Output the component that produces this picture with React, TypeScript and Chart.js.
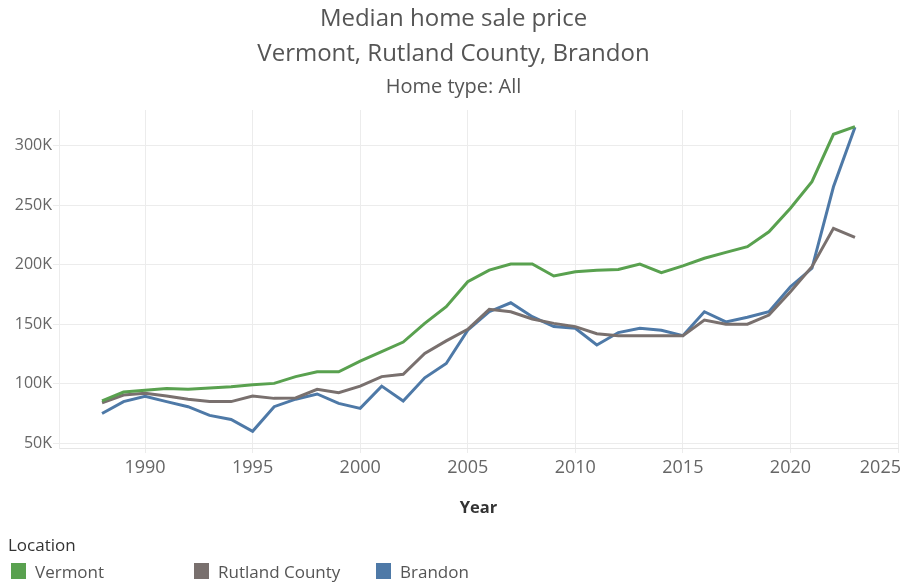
import React, { useEffect, useRef } from "react";
import { Chart, registerables } from "chart.js";

Chart.register(...registerables);

const years = [
  1988, 1989, 1990, 1991, 1992, 1993, 1994, 1995, 1996, 1997, 1998, 1999,
  2000, 2001, 2002, 2003, 2004, 2005, 2006, 2007, 2008, 2009, 2010, 2011,
  2012, 2013, 2014, 2015, 2016, 2017, 2018, 2019, 2020, 2021, 2022, 2023,
];

const vermont = [
  85500, 93000, 94500, 96000, 95300, 96400, 97500, 99200, 100300, 106000, 110000, 110000,
  119000, 127000, 135000, 150700, 164700, 185700, 195500, 200600, 200600, 190500, 194100, 195300,
  196000, 200600, 193300, 199000, 205400, 210400, 215200, 227700, 247400, 269800, 309600, 316000,
];

const rutland = [
  84000, 90500, 92000, 89700, 87000, 85000, 85000, 89700, 87700, 88000, 95300, 92500,
  98000, 106000, 108000, 125500, 136000, 145700, 162500, 160500, 154400, 150700, 148000, 142000,
  140400, 140400, 140400, 140400, 153500, 150000, 150000, 157700, 177300, 198300, 230600, 223000,
];

const brandon = [
  75000, 85000, 89500, 85000, 80700, 73400, 70000, 60000, 80700, 87000, 91400, 83500,
  79300, 98000, 85500, 105000, 117000, 145000, 160500, 168000, 156300, 148000, 146600, 132500,
  143000, 146600, 145000, 140400, 160500, 152000, 155800, 160500, 181500, 197000, 265500, 315500,
];

const yTicks = [50000, 100000, 150000, 200000, 250000, 300000];
const xTicks = [1990, 1995, 2000, 2005, 2010, 2015, 2020, 2025];

const seriesNames = ["Vermont", "Rutland County", "Brandon"];
const seriesColors = ["#59a14f", "#79706e", "#4e79a7"];

const FONT = "'Open Sans', 'Noto Sans', sans-serif";
const X_TICK_SIZE = 18;
const X_TICK_PAD = 4;
const X_TICK_LEN = 5;

const lastXLabel = {
  id: "lastXLabel",
  afterDraw(chart: any) {
    const sx = chart.scales.x;
    const ctx = chart.ctx;
    const last = xTicks[xTicks.length - 1];
    ctx.save();
    ctx.font = `${X_TICK_SIZE}px ${FONT}`;
    ctx.fillStyle = "#666666";
    ctx.textAlign = "right";
    ctx.textBaseline = "middle";
    ctx.fillText(String(last), chart.width - 1, sx.top + X_TICK_LEN + X_TICK_PAD + (X_TICK_SIZE * 1.2) / 2);
    ctx.restore();
  },
};

export default function App() {
  const ref = useRef<HTMLCanvasElement | null>(null);

  useEffect(() => {
    if (!ref.current) return;
    const all = [vermont, rutland, brandon];
    const chart = new Chart(ref.current, {
      type: "line",
      data: {
        datasets: all.map((vals, i) => ({
          label: seriesNames[i],
          data: years.map((y, j) => ({ x: y, y: vals[j] })),
          borderColor: seriesColors[i],
          backgroundColor: seriesColors[i],
          borderWidth: 3,
          pointRadius: 0,
          tension: 0,
        })),
      },
      plugins: [lastXLabel],
      options: {
        animation: false,
        responsive: false,
        maintainAspectRatio: false,
        layout: {
          autoPadding: false,
          padding: { left: 0, right: -5, top: 0, bottom: 65 },
        },
        plugins: {
          legend: { display: false },
          tooltip: { enabled: false },
          title: {
            display: true,
            text: ["Median home sale price", "Vermont, Rutland County, Brandon"],
            color: "#555555",
            font: { family: FONT, size: 24, weight: "normal", lineHeight: 35 / 24 },
            padding: { top: 2, bottom: 0 },
          },
          subtitle: {
            display: true,
            text: "Home type: All",
            color: "#555555",
            font: { family: FONT, size: 20, weight: "normal", lineHeight: 1.2 },
            padding: { top: 3, bottom: 11 },
          },
        },
        scales: {
          x: {
            type: "linear",
            min: 1986,
            max: 2025,
            afterBuildTicks: (axis: any) => {
              axis.ticks = xTicks.map((v) => ({ value: v }));
            },
            grid: { color: "#ececec", drawTicks: true, tickLength: X_TICK_LEN, tickColor: "#ececec" },
            border: { display: true, color: "#e6e6e6" },
            ticks: {
              color: "#666666",
              font: { family: FONT, size: X_TICK_SIZE },
              padding: X_TICK_PAD,
              maxRotation: 0,
              autoSkip: false,
              callback: (v: any) => (v === xTicks[xTicks.length - 1] ? "" : String(v)),
            },
            title: {
              display: true,
              text: "Year",
              color: "#333333",
              font: { family: FONT, size: 16.5, weight: "bold", lineHeight: 1.2 },
              padding: { top: 15.6, bottom: 0 },
            },
          },
          y: {
            type: "linear",
            min: 46000,
            max: 330000,
            afterBuildTicks: (axis: any) => {
              axis.ticks = yTicks.map((v) => ({ value: v }));
            },
            afterFit: (axis: any) => {
              axis.width = 59;
            },
            grid: { color: "#ececec", drawTicks: true, tickLength: 6, tickColor: "#ececec" },
            border: { display: true, color: "#ececec" },
            ticks: {
              color: "#666666",
              font: { family: FONT, size: 16 },
              padding: 1,
              callback: (v: any) => `${Math.round(Number(v) / 1000)}K`,
            },
          },
        },
      },
    });
    return () => chart.destroy();
  }, []);

  const legendItem = (i: number, left: number) => (
    <div
      key={i}
      style={{
        position: "absolute",
        left,
        top: 562,
        height: 18,
        display: "flex",
        alignItems: "center",
        fontFamily: FONT,
        fontSize: 17,
        color: "#555555",
        whiteSpace: "nowrap",
      }}
    >
      <span
        style={{
          display: "inline-block",
          width: 15,
          height: 16,
          background: seriesColors[i],
          marginRight: 9,
        }}
      />
      {seriesNames[i]}
    </div>
  );

  return (
    <div style={{ position: "absolute", left: 0, top: 0, width: 902, height: 583, background: "#ffffff" }}>
      <canvas ref={ref} width={902} height={583} style={{ position: "absolute", left: 0, top: 0 }} />
      <div
        style={{
          position: "absolute",
          left: 8,
          top: 535,
          fontFamily: FONT,
          fontSize: 17,
          color: "#333333",
          lineHeight: "20px",
        }}
      >
        Location
      </div>
      {legendItem(0, 11)}
      {legendItem(1, 194)}
      {legendItem(2, 376)}
    </div>
  );
}
